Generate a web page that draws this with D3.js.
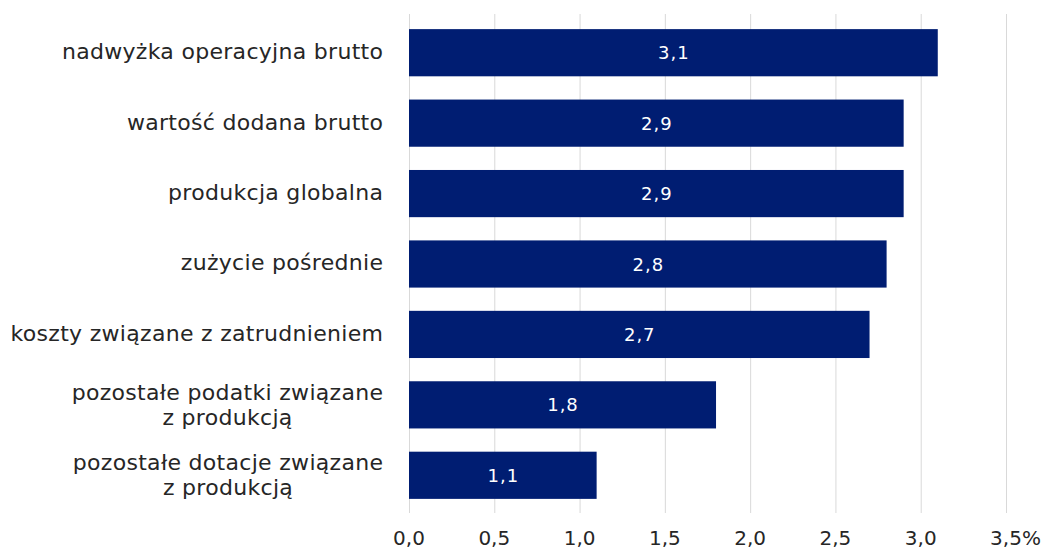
<!DOCTYPE html>
<html>
<head>
<meta charset="utf-8">
<script src="https://cdn.jsdelivr.net/npm/d3@7"></script>
<style>
  body { margin: 0; background: #fff; }
  text { font-family: 'DejaVu Sans', sans-serif; }
</style>
</head>
<body>
<div class="container"></div>
<script>
const categories = [
    ['nadwyżka operacyjna brutto'],
    ['wartość dodana brutto'],
    ['produkcja globalna'],
    ['zużycie pośrednie'],
    ['koszty związane z zatrudnieniem'],
    ['pozostałe podatki związane', 'z produkcją'],
    ['pozostałe dotacje związane', 'z produkcją']
];
const values = [3.1, 2.9, 2.9, 2.8, 2.7, 1.8, 1.1];
const ticks = [0, 0.5, 1, 1.5, 2, 2.5, 3, 3.5];

const width = 1046;
const height = 549;
const fmt = v => v.toFixed(1).replace('.', ',');

const svg = d3.select('.container')
    .append('svg')
    .attr('width', width)
    .attr('height', height);

const x = d3.scaleLinear()
    .domain([0, 3.5])
    .range([409, 1006]);

const y = d3.scaleBand()
    .domain(d3.range(values.length))
    .range([17.5, 510.5])
    .paddingInner(0.33)
    .paddingOuter(0.165);

// gridlines
svg.append('g')
    .selectAll('line')
    .data(ticks)
    .enter()
    .append('line')
    .attr('x1', d => x(d) + 0.5)
    .attr('x2', d => x(d) + 0.5)
    .attr('y1', 14)
    .attr('y2', 513)
    .attr('stroke', '#d9d9d9')
    .attr('stroke-width', 1);

// x tick labels (number centred on gridline, % hangs after last one)
const tickG = svg.append('g')
    .attr('font-size', 20)
    .attr('fill', '#262626');
ticks.forEach((d, i) => {
    const t = tickG.append('text')
        .attr('x', x(d))
        .attr('y', 545)
        .attr('text-anchor', 'middle')
        .text(fmt(d));
    if (i === ticks.length - 1) {
        const w = t.node().getComputedTextLength();
        tickG.append('text')
            .attr('x', x(d) + w / 2)
            .attr('y', 545)
            .text('%');
    }
});

// bars
svg.append('g')
    .selectAll('rect')
    .data(values)
    .enter()
    .append('rect')
    .attr('x', x(0))
    .attr('y', (d, i) => y(i))
    .attr('width', d => x(d) - x(0))
    .attr('height', y.bandwidth())
    .attr('fill', '#001d72');

// value labels
svg.append('g')
    .selectAll('text')
    .data(values)
    .enter()
    .append('text')
    .attr('x', d => (x(0) + x(d)) / 2 + 0.5)
    .attr('y', (d, i) => y(i) + y.bandwidth() / 2 + 6.6)
    .attr('text-anchor', 'middle')
    .attr('font-size', 18)
    .attr('letter-spacing', 1)
    .attr('fill', '#fff')
    .text(d => fmt(d));

// category labels (multi-line, centred block, right-aligned)
const labelRight = 383;
const lineH = 25;
const ls = 0.3;
categories.forEach((lines, i) => {
    const cy = y(i) + y.bandwidth() / 2;
    const base = lines.length > 1 ? cy - 5 : cy + 6.4;
    const g = svg.append('g')
        .attr('font-size', 22)
        .attr('letter-spacing', ls)
        .attr('fill', '#262626');
    const t0 = g.append('text')
        .attr('text-anchor', 'end')
        .attr('x', labelRight + ls)
        .attr('y', base)
        .text(lines[0]);
    const w0 = t0.node().getComputedTextLength();
    lines.slice(1).forEach((line, j) => {
        g.append('text')
            .attr('text-anchor', 'middle')
            .attr('x', labelRight - w0 / 2 + ls)
            .attr('y', base + (j + 1) * lineH)
            .text(line);
    });
});
</script>
</body>
</html>
